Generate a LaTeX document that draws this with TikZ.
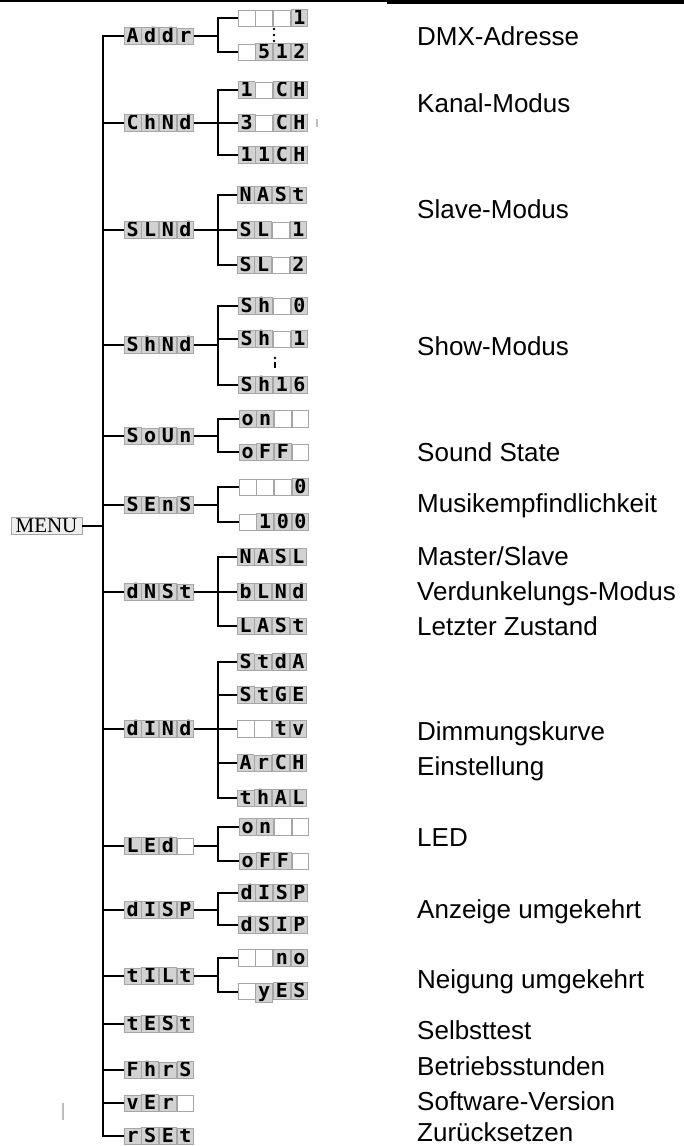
\documentclass[tikz,border=0pt]{standalone}
\usepackage{fontspec}
\setmainfont{Liberation Sans}
\newfontfamily\lcdfont{DejaVu Sans Mono}
\newfontfamily\menufont{Liberation Serif}
\usetikzlibrary{positioning}
\definecolor{lcdgrey}{HTML}{D2D2D2}
\definecolor{lcdedge}{HTML}{A6A6A6}
\definecolor{menufill}{HTML}{EEEEEE}
\definecolor{scangrey}{HTML}{BDBDBD}

% one cell of the display, white when empty
\newcommand\lcdcell[1]{{\setlength\fboxsep{0pt}\setlength\fboxrule{0.8pt}%
  \def\tmpcell{#1}\ifx\tmpcell\empty\def\cellbg{white}\else\def\cellbg{lcdgrey}\fi
  \fcolorbox{lcdedge}{\cellbg}{\makebox[16pt][c]{\rule[-1.5pt]{0pt}{15.5pt}#1}}}}
\newcommand\lcd[4]{\lcdcell{#1}\lcdcell{#2}\lcdcell{#3}\lcdcell{#4}}

\begin{document}
\begin{tikzpicture}[x=1pt, y=-1pt,
    lcd/.style={inner sep=0pt, outer sep=0pt,
      font={\lcdfont\bfseries\fontsize{20pt}{20pt}\selectfont}},
    menubox/.style={draw=lcdedge, fill=menufill, line width=0.8pt,
      minimum width=71pt, minimum height=17pt, inner sep=0pt,
      font={\menufont\fontsize{21pt}{21pt}\selectfont}},
    note/.style={anchor=west, inner sep=0pt, text height=18.6pt, text depth=0pt,
      font={\fontsize{26pt}{30pt}\selectfont}},
    trunk/.style={line width=2pt},
    thinlink/.style={line width=1.4pt},
    boldlink/.style={line width=2.8pt}]

  \useasboundingbox (0,0) rectangle (684,1146);

  % --- rule at the top of the page
  \fill (0,0) rectangle (387,1.7);
  \fill (387,0) rectangle (684,4);

  \coordinate (tx) at (103,0);
  \coordinate (bx) at (218,0);

  \node[menubox] (menu) at (46.5,526) {MENU};

  % --- first level
  \node[lcd] (addr) at (159,36)   {\lcd{A}{d}{d}{r}};
  \node[lcd] (chnd) at (159,123)  {\lcd{C}{h}{N}{d}};
  \node[lcd] (slnd) at (159,230)  {\lcd{S}{L}{N}{d}};
  \node[lcd] (shnd) at (159,345)  {\lcd{S}{h}{N}{d}};
  \node[lcd] (soun) at (159,436)  {\lcd{S}{o}{U}{n}};
  \node[lcd] (sens) at (159,505)  {\lcd{S}{E}{n}{S}};
  \node[lcd] (dnst) at (159,592)  {\lcd{d}{N}{S}{t}};
  \node[lcd] (dind) at (159,729)  {\lcd{d}{I}{N}{d}};
  \node[lcd] (led)  at (159,846)  {\lcd{L}{E}{d}{}};
  \node[lcd] (disp) at (159,910)  {\lcd{d}{I}{S}{P}};
  \node[lcd] (tilt) at (159,976)  {\lcd{t}{I}{L}{t}};
  \node[lcd] (test) at (159,1024) {\lcd{t}{E}{S}{t}};
  \node[lcd] (fhrs) at (159,1070) {\lcd{F}{h}{r}{S}};
  \node[lcd] (ver)  at (159,1103) {\lcd{v}{E}{r}{}};
  \node[lcd] (rset) at (159,1136) {\lcd{r}{S}{E}{t}};

  % --- second level
  \node[lcd] (addr1) at (273,18)  {\lcd{}{}{}{1}};
  \node[lcd] (addr2) at (273,52)  {\lcd{}{5}{1}{2}};
  \node[lcd] (chnd1) at (273,90)  {\lcd{1}{}{C}{H}};
  \node[lcd] (chnd2) at (273,123) {\lcd{3}{}{C}{H}};
  \node[lcd] (chnd3) at (273,155) {\lcd{1}{1}{C}{H}};
  \node[lcd] (slnd1) at (272,195) {\lcd{N}{A}{S}{t}};
  \node[lcd] (slnd2) at (272,230) {\lcd{S}{L}{}{1}};
  \node[lcd] (slnd3) at (272,265) {\lcd{S}{L}{}{2}};
  \node[lcd] (shnd1) at (273,306) {\lcd{S}{h}{}{0}};
  \node[lcd] (shnd2) at (273,339) {\lcd{S}{h}{}{1}};
  \node[lcd] (shnd3) at (273,385) {\lcd{S}{h}{1}{6}};
  \node[lcd] (soun1) at (274,419) {\lcd{o}{n}{}{}};
  \node[lcd] (soun2) at (274,452) {\lcd{o}{F}{F}{}};
  \node[lcd] (sens1) at (274,487) {\lcd{}{}{}{0}};
  \node[lcd] (sens2) at (274,522) {\lcd{}{1}{0}{0}};
  \node[lcd] (dnst1) at (272,557) {\lcd{N}{A}{S}{L}};
  \node[lcd] (dnst2) at (272,592) {\lcd{b}{L}{N}{d}};
  \node[lcd] (dnst3) at (272,626) {\lcd{L}{A}{S}{t}};
  \node[lcd] (dind1) at (272,662) {\lcd{S}{t}{d}{A}};
  \node[lcd] (dind2) at (272,695) {\lcd{S}{t}{G}{E}};
  \node[lcd] (dind3) at (272,729) {\lcd{}{}{t}{v}};
  \node[lcd] (dind4) at (272,763) {\lcd{A}{r}{C}{H}};
  \node[lcd] (dind5) at (272,798) {\lcd{t}{h}{A}{L}};
  \node[lcd] (led1)  at (274,827) {\lcd{o}{n}{}{}};
  \node[lcd] (led2)  at (274,861) {\lcd{o}{F}{F}{}};
  \node[lcd] (disp1) at (273,893) {\lcd{d}{I}{S}{P}};
  \node[lcd] (disp2) at (273,925) {\lcd{d}{S}{I}{P}};
  \node[lcd] (tilt1) at (273,958) {\lcd{}{}{n}{o}};
  \node[lcd] (tilt2) at (273,992) {\lcd{}{y}{E}{S}};

  % --- trunk and its branches
  \draw[boldlink] (menu.east) -- (menu.east -| tx);
  \draw[trunk,line join=miter] (addr.west) -| (rset.west -| tx) -- (rset.west);
  \foreach \n in {slnd,shnd,sens,dind,led,tilt,test,fhrs,ver}
    \draw[boldlink] (\n.west -| tx) -- (\n.west);
  \foreach \n in {chnd,soun,dnst,disp}
    \draw[thinlink] (\n.west -| tx) -- (\n.west);

  % --- groups of the second level
  \foreach \p/\last in {addr/addr2,chnd/chnd3,shnd/shnd3,soun/soun2,sens/sens2,
                        dnst/dnst3,led/led2,disp/disp2,tilt/tilt2}{
    \draw[boldlink] (\p.east) -- (\p.east -| bx);
    \draw[boldlink,line join=miter] (\p1.west) -| (\last.west -| bx) -- (\last.west);
  }
  \foreach \c in {chnd2,shnd2,dnst2}
    \draw[boldlink] (\c.west -| bx) -- (\c.west);
  \draw[thinlink] (slnd.east) -- (slnd2.west);
  \draw[thinlink,line join=miter] (slnd1.west) -| (slnd3.west -| bx) -- (slnd3.west);
  \draw[thinlink] (dind.east) -- (dind3.west);
  \draw[thinlink,line join=miter] (dind1.west) -| (dind.east -| bx);
  \draw[boldlink,line join=miter] (dind.east -| bx) |- (dind5.west);
  \draw[thinlink] (dind2.west -| bx) -- (dind2.west);
  \draw[boldlink] (dind4.west -| bx) -- (dind4.west);

  % --- the skipped values
  \foreach \y in {29,35,41} \fill (274,\y) circle (1.3);
  \fill (275,358) circle (1.3);
  \fill (273.6,362) rectangle (276.4,368);

  % --- marks left by the scan
  \draw[scangrey,line width=1.2pt] (317,119) -- (317,127);
  \draw[scangrey,line width=1.2pt] (63,1103) -- (63,1120);

  % --- what each entry means
  \node[note] (n-addr) at (417,36)   {DMX-Adresse};
  \node[note] (n-chnd) at (417,103)  {Kanal-Modus};
  \node[note] (n-slnd) at (417,209)  {Slave-Modus};
  \node[note] (n-shnd) at (417,346)  {Show-Modus};
  \node[note] (n-soun) at (417,452)  {Sound State};
  \node[note] (n-sens) at (417,503)  {Musikempfindlichkeit};
  \node[note] (n-dns1) at (417,556)  {Master/Slave};
  \node[note] (n-dns2) at (417,591)  {Verdunkelungs-Modus};
  \node[note] (n-dns3) at (417,626)  {Letzter Zustand};
  \node[note] (n-din1) at (417,731)  {Dimmungskurve};
  \node[note] (n-din2) at (417,766)  {Einstellung};
  \node[note] (n-led)  at (417,837)  {LED};
  \node[note] (n-disp) at (417,909)  {Anzeige umgekehrt};
  \node[note] (n-tilt) at (417,979)  {Neigung umgekehrt};
  \node[note] (n-test) at (417,1030) {Selbsttest};
  \node[note] (n-fhrs) at (417,1066) {Betriebsstunden};
  \node[note] (n-ver)  at (417,1101) {Software-Version};
  \node[note] (n-rset) at (417,1132) {Zurücksetzen};
\end{tikzpicture}
\end{document}
